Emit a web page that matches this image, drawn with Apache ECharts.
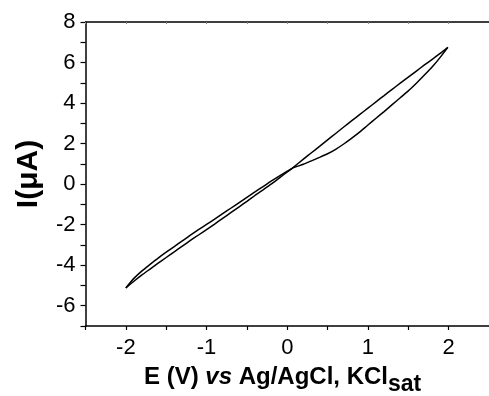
<!DOCTYPE html>
<html><head><meta charset="utf-8">
<script src="https://cdn.jsdelivr.net/npm/echarts@6/dist/echarts.min.js"></script>
<style>html,body{margin:0;padding:0;background:#fff}#c{width:489px;height:396px}</style>
</head><body><div id="c"></div>
<script>
// Forward scan: -2 V -> +2 V
const forwardE = [-2.0,-1.9,-1.8,-1.7,-1.6,-1.5,-1.4,-1.3,-1.2,-1.1,-1.0,-0.9,-0.8,-0.7,-0.6,-0.5,-0.4,-0.3,-0.2,-0.1,0.0,0.06,
  0.2,0.3,0.4,0.5,0.6,0.7,0.8,0.9,1.0,1.1,1.2,1.3,1.4,1.5,1.6,1.7,1.8,1.9,1.99];
const forwardI = [-5.12,-4.79,-4.48,-4.19,-3.9,-3.62,-3.34,-3.06,-2.78,-2.51,-2.24,-1.97,-1.69,-1.41,-1.13,-0.85,-0.56,-0.28,0.0,0.3,0.6,0.78,
  1.23,1.55,1.86,2.18,2.5,2.82,3.13,3.44,3.75,4.06,4.37,4.68,4.98,5.28,5.58,5.88,6.17,6.46,6.75];
// Reverse scan: +2 V -> -2 V
const reverseE = [1.99,1.9,1.8,1.7,1.6,1.5,1.4,1.3,1.2,1.1,1.0,0.9,0.8,0.7,0.6,0.5,0.4,0.3,0.2,0.06,
  0.0,-0.1,-0.2,-0.3,-0.4,-0.5,-0.6,-0.7,-0.8,-0.9,-1.0,-1.1,-1.2,-1.3,-1.4,-1.5,-1.6,-1.7,-1.8,-1.9,-2.0];
const reverseI = [6.75,6.28,5.8,5.38,4.98,4.6,4.26,3.92,3.58,3.25,2.92,2.58,2.27,1.98,1.72,1.5,1.32,1.15,0.98,0.78,
  0.64,0.4,0.15,-0.12,-0.38,-0.65,-0.92,-1.19,-1.46,-1.73,-1.99,-2.25,-2.52,-2.8,-3.08,-3.36,-3.65,-3.96,-4.28,-4.65,-5.12];
const xTickLabels = [-2,-1,0,1,2];
const yTickLabels = [-6,-4,-2,0,2,4,6,8];

const FONT = '"Liberation Sans", Arial, sans-serif';
const zip = (a,b) => a.map((v,i)=>[v,b[i]]);
const chart = echarts.init(document.getElementById('c'), null, {renderer:'canvas'});
const axisLine = {show:true, onZero:false, lineStyle:{color:'#000', width:1.5}};
chart.setOption({
  animation:false,
  backgroundColor:'#fff',
  grid:{left:85.5, top:22, width:411.5, height:304, containLabel:false},
  xAxis:[{
    type:'value', min:-2.5, max:2.5, interval:0.5, position:'bottom',
    axisLine:axisLine,
    axisTick:{show:true, inside:false, length:4, lineStyle:{color:'#000', width:1.2}},
    axisLabel:{formatter:v=>xTickLabels.includes(v)?String(v):'', fontSize:22, color:'#000', fontFamily:FONT, margin:11, showMaxLabel:false},
    splitLine:{show:false}
  },{
    type:'value', min:-2.5, max:2.5, interval:0.5, position:'top',
    axisLine:axisLine,
    axisTick:{show:true, inside:true, length:2, lineStyle:{color:'#888', width:1}},
    axisLabel:{show:false}, splitLine:{show:false}
  }],
  yAxis:{
    type:'value', min:-7, max:8, interval:1,
    axisLine:axisLine,
    axisTick:{show:true, inside:false, length:5, lineStyle:{color:'#000', width:1.2}},
    axisLabel:{formatter:v=>yTickLabels.includes(v)?String(v):'', fontSize:22, color:'#000', fontFamily:FONT, margin:10},
    splitLine:{show:false},
    name:'I(μA)', nameLocation:'middle', nameRotate:90, nameGap:42,
    nameTextStyle:{fontSize:30, fontWeight:'bold', color:'#000', fontFamily:FONT}
  },
  graphic:[{
    type:'text', left:144, top:365,
    style:{
      text:'{a|E (V) }{b|vs}{a| Ag/AgCl, KCl}{s|sat}',
      rich:{
        a:{fontSize:24, fontWeight:'bold', fontFamily:FONT, fill:'#000'},
        b:{fontSize:24, fontWeight:'bold', fontStyle:'italic', fontFamily:FONT, fill:'#000'},
        s:{fontSize:23, fontWeight:'bold', fontFamily:FONT, fill:'#000', padding:[16,0,0,0]}
      }
    }
  }],
  series:[
    {type:'line', data:zip(forwardE, forwardI), showSymbol:false, smooth:0.2, lineStyle:{color:'#000', width:1.5}},
    {type:'line', data:zip(reverseE, reverseI), showSymbol:false, smooth:0.2, lineStyle:{color:'#000', width:1.5}}
  ]
});
</script></body></html>
